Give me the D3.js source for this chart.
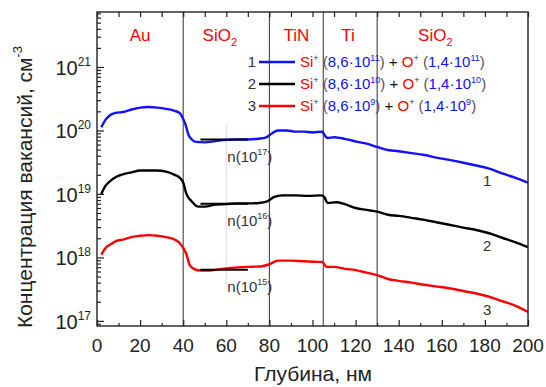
<!DOCTYPE html>
<html>
<head>
<meta charset="utf-8">
<script src="https://cdn.jsdelivr.net/npm/d3@7"></script>
<style>
  body { margin: 0; background: #fff; }
  svg { font-family: "Liberation Sans", Arial, sans-serif; }
</style>
</head>
<body>
<div id="chart"></div>
<script>
// профили концентрации вакансий: [глубина, нм; концентрация, см^-3]
const curve1 = [[2,1.12e20],[4,1.48e20],[6,1.74e20],[9,1.9e20],[12,1.95e20],[16,2.14e20],[20,2.29e20],[24,2.34e20],[28,2.29e20],[32,2.19e20],[36,2.04e20],[38.5,1.86e20],[40,1.51e20],[41,1.26e20],[42.5,8.5e19],[44,7.2e19],[46,6.6e19],[50,6.5e19],[55,6.8e19],[60,7.1e19],[65,7.2e19],[70,7.2e19],[75,7.4e19],[78.5,7.8e19],[81,8.9e19],[84,1.0e20],[88,1.0e20],[92,9.6e19],[96,9.6e19],[100,9.3e19],[104.5,9.6e19],[105,9.1e19],[107,7.6e19],[110,7.8e19],[113,7.6e19],[117,7.1e19],[121,6.6e19],[125,6.2e19],[130,5.5e19],[134,5.0e19],[140,4.7e19],[146,4.4e19],[152,4.1e19],[158,3.7e19],[164,3.4e19],[170,3.1e19],[176,2.8e19],[182,2.5e19],[188,2.1e19],[194,1.8e19],[200,1.5e19]];
const curve2 = [[2,1.0e19],[4,1.35e19],[6,1.58e19],[9,1.86e19],[12,2.04e19],[16,2.19e19],[20,2.34e19],[24,2.34e19],[28,2.34e19],[32,2.24e19],[36,2.0e19],[38.5,1.78e19],[40,1.51e19],[41.5,1.0e19],[44,7.6e18],[47,6.3e18],[50,6.3e18],[55,6.8e18],[60,6.9e18],[65,7.1e18],[70,7.1e18],[75,7.2e18],[79,7.6e18],[82,8.9e18],[86,9.5e18],[92,9.5e18],[98,9.3e18],[104,9.5e18],[105.5,8.9e18],[107,7.2e18],[111,7.4e18],[115,6.9e18],[120,6.0e18],[125,5.6e18],[130,5.25e18],[135,4.7e18],[140,4.5e18],[146,4.2e18],[152,3.9e18],[158,3.55e18],[164,3.24e18],[170,2.95e18],[176,2.7e18],[182,2.4e18],[188,2.04e18],[194,1.74e18],[200,1.45e18]];
const curve3 = [[2,1.1e18],[4,1.41e18],[6,1.58e18],[9,1.82e18],[12,1.91e18],[16,2.09e18],[20,2.19e18],[24,2.24e18],[28,2.19e18],[32,2.09e18],[36,1.91e18],[38.5,1.66e18],[40,1.41e18],[41.5,1.12e18],[43,7.6e17],[45,6.6e17],[48,6.2e17],[52,6.2e17],[58,6.6e17],[64,6.9e17],[70,7.1e17],[76,7.2e17],[80,7.8e17],[84,8.9e17],[90,8.9e17],[96,8.7e17],[102,8.5e17],[104.5,8.5e17],[106.5,7.1e17],[110,7.1e17],[115,6.6e17],[120,6.3e17],[125,5.75e17],[130,5.25e17],[135,4.57e17],[140,4.27e17],[146,4.0e17],[152,3.7e17],[158,3.47e17],[164,3.24e17],[170,2.95e17],[176,2.7e17],[182,2.4e17],[188,2.04e17],[194,1.74e17],[200,1.38e17]];

const seriesColors = ['#1010ff', '#000000', '#ff0000'];
const seriesNames = ['1', '2', '3'];
const seriesLabelPos = [[181, 1.6e19], [181, 1.5e18], [181, 1.5e17]];

// уровни n(...) на участке SiO2
const nLevels = [7.2e19, 7.0e18, 6.4e17];
const nExps = ['17', '16', '15'];
const nRange = [48, 70];

// слои структуры
const layerBounds = [40, 80, 105, 130];
const layerNames = ['Au', 'SiO', 'TiN', 'Ti', 'SiO'];
const layerSubs = ['', '2', '', '', '2'];
const layerLabelX = [20, 57, 92.5, 116.5, 157];

// легенда: дозы Si+ и O+
const siDose = '8,6·10';
const oDose = '1,4·10';
const doseExps = ['11', '10', '9'];

const xTicks = d3.range(0, 201, 20);
const xMinorTicks = d3.range(10, 200, 20);
const yTicks = [1e17, 1e18, 1e19, 1e20, 1e21];

const W = 546, H = 387;
const m = { top: 12, right: 18, bottom: 61, left: 97 };
const red = '#ff0000', blue = '#1010ff', gray = '#333';

const x = d3.scaleLinear().domain([0, 200]).range([m.left, W - m.right]);
const y = d3.scaleLog().domain([8.3e16, 7.35e21]).range([H - m.bottom, m.top]);

const svg = d3.select('#chart').append('svg').attr('width', W).attr('height', H);

// вертикальные границы слоёв
svg.selectAll('.bound').data(layerBounds).enter().append('line')
  .attr('x1', d => x(d)).attr('x2', d => x(d))
  .attr('y1', m.top).attr('y2', H - m.bottom)
  .attr('stroke', '#444').attr('stroke-width', 1.1);

// пунктир на 60 нм
svg.append('line')
  .attr('x1', x(60)).attr('x2', x(60))
  .attr('y1', y(1.2e20)).attr('y2', y(3.1e17))
  .attr('stroke', '#bbb').attr('stroke-width', 1).attr('stroke-dasharray', '1,1');

// оси
function styleAxis(g) {
  g.select('.domain').remove();
  g.selectAll('.tick line').attr('stroke', '#222').attr('stroke-width', 1.2);
}
svg.append('g').attr('transform', `translate(0,${H - m.bottom})`)
  .call(d3.axisBottom(x).tickValues(xTicks).tickSize(-6).tickFormat('')).call(styleAxis);
svg.append('g').attr('transform', `translate(0,${H - m.bottom})`)
  .call(d3.axisBottom(x).tickValues(xMinorTicks).tickSize(-3).tickFormat('')).call(styleAxis);
svg.append('g').attr('transform', `translate(0,${m.top})`)
  .call(d3.axisTop(x).tickValues(xTicks.concat(xMinorTicks)).tickSize(-5).tickFormat('')).call(styleAxis);

const yMinor = y.ticks().filter(v => !yTicks.some(t => Math.abs(t - v) / t < 1e-6));
svg.append('g').attr('transform', `translate(${m.left},0)`)
  .call(d3.axisLeft(y).tickValues(yTicks).tickSize(-7).tickFormat('')).call(styleAxis);
svg.append('g').attr('transform', `translate(${m.left},0)`)
  .call(d3.axisLeft(y).tickValues(yMinor).tickSize(-4).tickFormat('')).call(styleAxis);

// подписи делений
svg.selectAll('.xlab').data(xTicks).enter().append('text')
  .attr('x', d => x(d)).attr('y', 352)
  .attr('text-anchor', 'middle').attr('font-size', 19).attr('fill', '#222')
  .text(d => d);

const yl = svg.selectAll('.ylab').data(yTicks).enter().append('text')
  .attr('x', 91).attr('y', d => y(d) + 8)
  .attr('text-anchor', 'end').attr('font-size', 20).attr('fill', '#222');
yl.append('tspan').text('10');
yl.append('tspan').attr('font-size', 12).attr('dy', -9).text(d => Math.round(Math.log10(d)));

// названия осей
svg.append('text')
  .attr('x', 313).attr('y', 381)
  .attr('text-anchor', 'middle').attr('font-size', 21).attr('fill', '#222')
  .text('Глубина, нм');
const yt = svg.append('text')
  .attr('transform', 'translate(32,187) rotate(-90)')
  .attr('text-anchor', 'middle').attr('font-size', 21).attr('fill', '#222');
yt.append('tspan').text('Концентрация вакансий, см');
yt.append('tspan').attr('font-size', 13).attr('dy', -10).text('-3');

// слои
const ll = svg.selectAll('.layer').data(layerNames).enter().append('text')
  .attr('x', (d, i) => x(layerLabelX[i])).attr('y', 41)
  .attr('text-anchor', 'middle').attr('font-size', 17).attr('fill', red);
ll.append('tspan').text(d => d);
ll.append('tspan').attr('font-size', 11).attr('dy', 5).text((d, i) => layerSubs[i]);

// кривые
const line = d3.line().x(d => x(d[0])).y(d => y(d[1])).curve(d3.curveMonotoneX);
[curve1, curve2, curve3].forEach((c, i) => {
  svg.append('path').datum(c)
    .attr('d', line).attr('fill', 'none')
    .attr('stroke', seriesColors[i]).attr('stroke-width', 2.4)
    .attr('stroke-linejoin', 'round');
});

// уровни n(10^k)
svg.selectAll('.nlev').data(nLevels).enter().append('line')
  .attr('x1', x(nRange[0])).attr('x2', x(nRange[1]))
  .attr('y1', d => y(d)).attr('y2', d => y(d))
  .attr('stroke', '#000').attr('stroke-width', 2);
const nl = svg.selectAll('.nlab').data(nLevels).enter().append('text')
  .attr('x', x(60) + 1).attr('y', d => y(d) + 22)
  .attr('font-size', 15).attr('fill', gray);
nl.append('tspan').text('n(10');
nl.append('tspan').attr('font-size', 9).attr('dy', -7).text((d, i) => nExps[i]);
nl.append('tspan').attr('dy', 7).text(')');

// номера кривых
svg.selectAll('.num').data(seriesLabelPos).enter().append('text')
  .attr('x', d => x(d[0])).attr('y', d => y(d[1]) + 5)
  .attr('text-anchor', 'middle').attr('font-size', 15).attr('fill', gray)
  .text((d, i) => seriesNames[i]);

// легенда
const rowY = [62, 84, 106];
seriesNames.forEach((name, i) => {
  const g = svg.append('g').attr('transform', `translate(0,${rowY[i]})`);
  g.append('text').attr('x', 252).attr('y', 5).attr('text-anchor', 'middle')
    .attr('font-size', 15).attr('fill', gray).text(name);
  g.append('line').attr('x1', 259).attr('x2', 295)
    .attr('stroke', seriesColors[i]).attr('stroke-width', 2.4);
  const t = g.append('text').attr('x', 300).attr('y', 5).attr('font-size', 15);
  const sup = (txt, col) => { t.append('tspan').attr('font-size', 9).attr('dy', -6).attr('fill', col).text(txt); };
  const base = (txt, col) => { t.append('tspan').attr('dy', 6).attr('fill', col).text(txt); };
  t.append('tspan').attr('fill', red).text('Si');
  sup('+', gray);
  base(' (', '#555');
  t.append('tspan').attr('fill', blue).text(siDose);
  sup(doseExps[i], blue);
  base(')', '#555');
  t.append('tspan').attr('fill', '#111').text(' + ');
  t.append('tspan').attr('fill', red).text('O');
  sup('+', gray);
  base(' (', '#555');
  t.append('tspan').attr('fill', blue).text(oDose);
  sup(doseExps[i], blue);
  base(')', '#555');
});

// рамка
svg.append('rect')
  .attr('x', m.left).attr('y', m.top)
  .attr('width', W - m.left - m.right).attr('height', H - m.top - m.bottom)
  .attr('fill', 'none').attr('stroke', '#222').attr('stroke-width', 1.4);
</script>
</body>
</html>
